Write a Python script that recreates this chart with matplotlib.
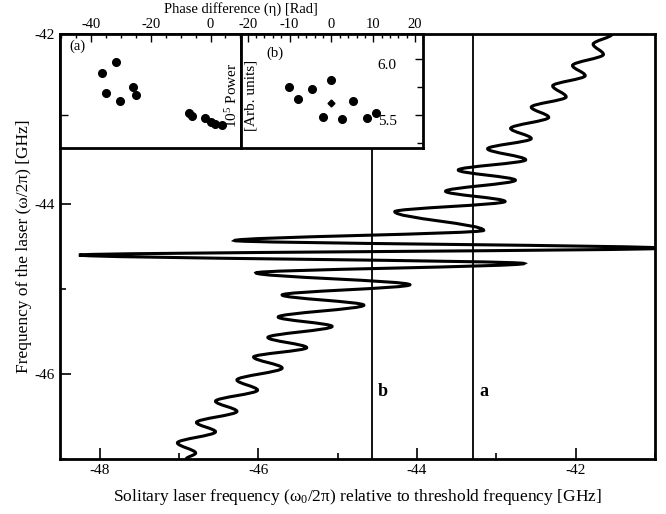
import matplotlib
matplotlib.use('Agg')
import matplotlib.pyplot as plt
from matplotlib.path import Path
from matplotlib.patches import PathPatch
from matplotlib.ticker import MultipleLocator

plt.rcParams['font.family'] = ['Liberation Serif', 'DejaVu Serif']
plt.rcParams['mathtext.fontset'] = 'custom'
plt.rcParams['mathtext.rm'] = 'Liberation Serif'
plt.rcParams['mathtext.it'] = 'Liberation Serif:italic'
plt.rcParams['axes.unicode_minus'] = False

# turning points of the laser frequency curve, read from top to bottom [GHz]
curve_w0 = [-41.54, -41.78, -41.65, -42.04, -41.88, -42.29, -42.12, -42.56, -42.34,
            -42.82, -42.56, -43.11, -42.63, -43.48, -42.76, -43.64, -42.89, -44.28,
            -43.16, -46.30, -40.90, -48.26, -42.65, -46.03, -44.09, -45.70, -44.67,
            -45.75, -45.07, -45.88, -45.39, -46.06, -45.70, -46.27, -46.01, -46.54,
            -46.27, -46.78, -46.54, -47.02, -46.79, -46.91]
curve_w = [-42.00, -42.12, -42.24, -42.37, -42.49, -42.61, -42.74, -42.86, -42.98,
           -43.11, -43.23, -43.35, -43.48, -43.60, -43.72, -43.85, -43.97, -44.09,
           -44.31, -44.43, -44.52, -44.60, -44.70, -44.81, -44.95, -45.07, -45.19,
           -45.33, -45.44, -45.57, -45.69, -45.80, -45.93, -46.07, -46.19, -46.32,
           -46.44, -46.57, -46.68, -46.81, -46.93, -47.00]

line_a = -43.29
line_b = -44.57

# inset (a) and (b): power vs phase difference
eta_a = [-36.4, -31.8, -35.0, -30.2, -26.0, -25.0, -7.1, -6.1, -1.8, 0.2, 1.5, 3.7]
pow_a = [5.88, 5.98, 5.70, 5.63, 5.75, 5.68, 5.52, 5.49, 5.47, 5.44, 5.42, 5.41]
eta_b = [-10.2, -8.0, -4.7, 0.0, -2.1, 2.5, 5.2, 8.6, 10.7]
pow_b = [5.75, 5.64, 5.73, 5.81, 5.48, 5.46, 5.63, 5.47, 5.52]
eta_b_mark = [0.0]
pow_b_mark = [5.605]

fig = plt.figure(figsize=(6.66, 5.14), dpi=100)
ax = fig.add_axes([0.0901, 0.1070, 0.8934, 0.8268])
ax.set_xlim(-48.5, -41.0)
ax.set_ylim(-47, -42)

# smooth curve through the turning points (vertical tangent at each one)
verts = [(curve_w0[0], curve_w[0])]
codes = [Path.MOVETO]
for i in range(1, len(curve_w0)):
    x0, y0 = curve_w0[i - 1], curve_w[i - 1]
    x1, y1 = curve_w0[i], curve_w[i]
    d = (y1 - y0) / 3
    verts += [(x0, y0 + d), (x1, y1 - d), (x1, y1)]
    codes += [Path.CURVE4] * 3
ax.add_patch(PathPatch(Path(verts, codes), facecolor='none', edgecolor='black', lw=2.2))

ax.axvline(line_b, color='black', lw=1.3)
ax.axvline(line_a, color='black', lw=1.3)
ax.text(line_b + 0.08, -46.21, 'b', fontsize=13, fontweight='bold', va='center')
ax.text(line_a + 0.08, -46.21, 'a', fontsize=13, fontweight='bold', va='center')

ax.xaxis.set_major_locator(MultipleLocator(2))
ax.xaxis.set_minor_locator(MultipleLocator(1))
ax.yaxis.set_major_locator(MultipleLocator(2))
ax.yaxis.set_minor_locator(MultipleLocator(1))
ax.tick_params(which='both', direction='in', top=False, right=False, labelsize=11, width=1.2)
ax.tick_params(which='major', length=8)
ax.tick_params(which='minor', length=4)
for s in ax.spines.values():
    s.set_linewidth(2)
ax.set_xlabel('Solitary laser frequency (ω$_0$/2π) relative to threshold frequency [GHz]',
              fontsize=12.5, labelpad=7)
ax.set_ylabel('Frequency of the laser (ω/2π) [GHz]', fontsize=12.5, labelpad=2)

# insets
axa = fig.add_axes([0.0901, 0.7121, 0.2718, 0.2218])
axb = fig.add_axes([0.3619, 0.7121, 0.2733, 0.2218])
axa.plot(eta_a, pow_a, 'o', color='black', ms=5.5)
axb.plot(eta_b, pow_b, 'o', color='black', ms=5.5)
axb.plot(eta_b_mark, pow_b_mark, 'D', color='black', ms=3.5)
axa.set_xlim(-50.4, 10.2)
axb.set_xlim(-21.6, 21.9)
for a in (axa, axb):
    a.set_ylim(5.204, 6.227)
    a.xaxis.tick_top()
    a.tick_params(axis='x', which='both', direction='in', top=True, bottom=False,
                  labeltop=True, labelbottom=False, labelsize=10.5, pad=2, width=1)
    a.tick_params(axis='x', which='major', length=6)
    a.tick_params(axis='x', which='minor', length=3)
    for s in a.spines.values():
        s.set_linewidth(2)
axa.xaxis.set_major_locator(MultipleLocator(20))
axa.xaxis.set_minor_locator(MultipleLocator(5))
axb.xaxis.set_major_locator(MultipleLocator(10))
axb.xaxis.set_minor_locator(MultipleLocator(2))
axa.set_yticks([5.5])
axa.tick_params(axis='y', direction='in', left=True, labelleft=False, length=6, width=1)
axb.set_yticks([5.5, 6.0])
axb.set_yticks([5.25, 5.75], minor=True)
axb.yaxis.tick_right()
axb.tick_params(axis='y', which='both', direction='in', right=True, left=False,
                labelright=True, labelleft=False, labelsize=11, pad=-19, width=1)
axb.tick_params(axis='y', which='major', length=6)
axb.tick_params(axis='y', which='minor', length=4)
axb.set_yticklabels(['5.5', '6.0'])
for lab in axb.get_yticklabels():
    lab.set_horizontalalignment('right')
    lab.set_verticalalignment('top')
axa.text(0.05, 0.86, '(a)', transform=axa.transAxes, fontsize=10.5)
axb.text(0.14, 0.80, '(b)', transform=axb.transAxes, fontsize=10.5)

fig.text(241 / 666, 1 - 9 / 514, 'Phase difference (η) [Rad]', ha='center', va='center',
         fontsize=10.5)
fig.text(232 / 666, 1 - 95 / 514, '10$^5$ Power', rotation=90, ha='center', va='center',
         fontsize=11)
fig.text(251 / 666, 1 - 95 / 514, '[Arb. units]', rotation=90, ha='center', va='center',
         fontsize=11)

fig.savefig('out.png', dpi=100)
